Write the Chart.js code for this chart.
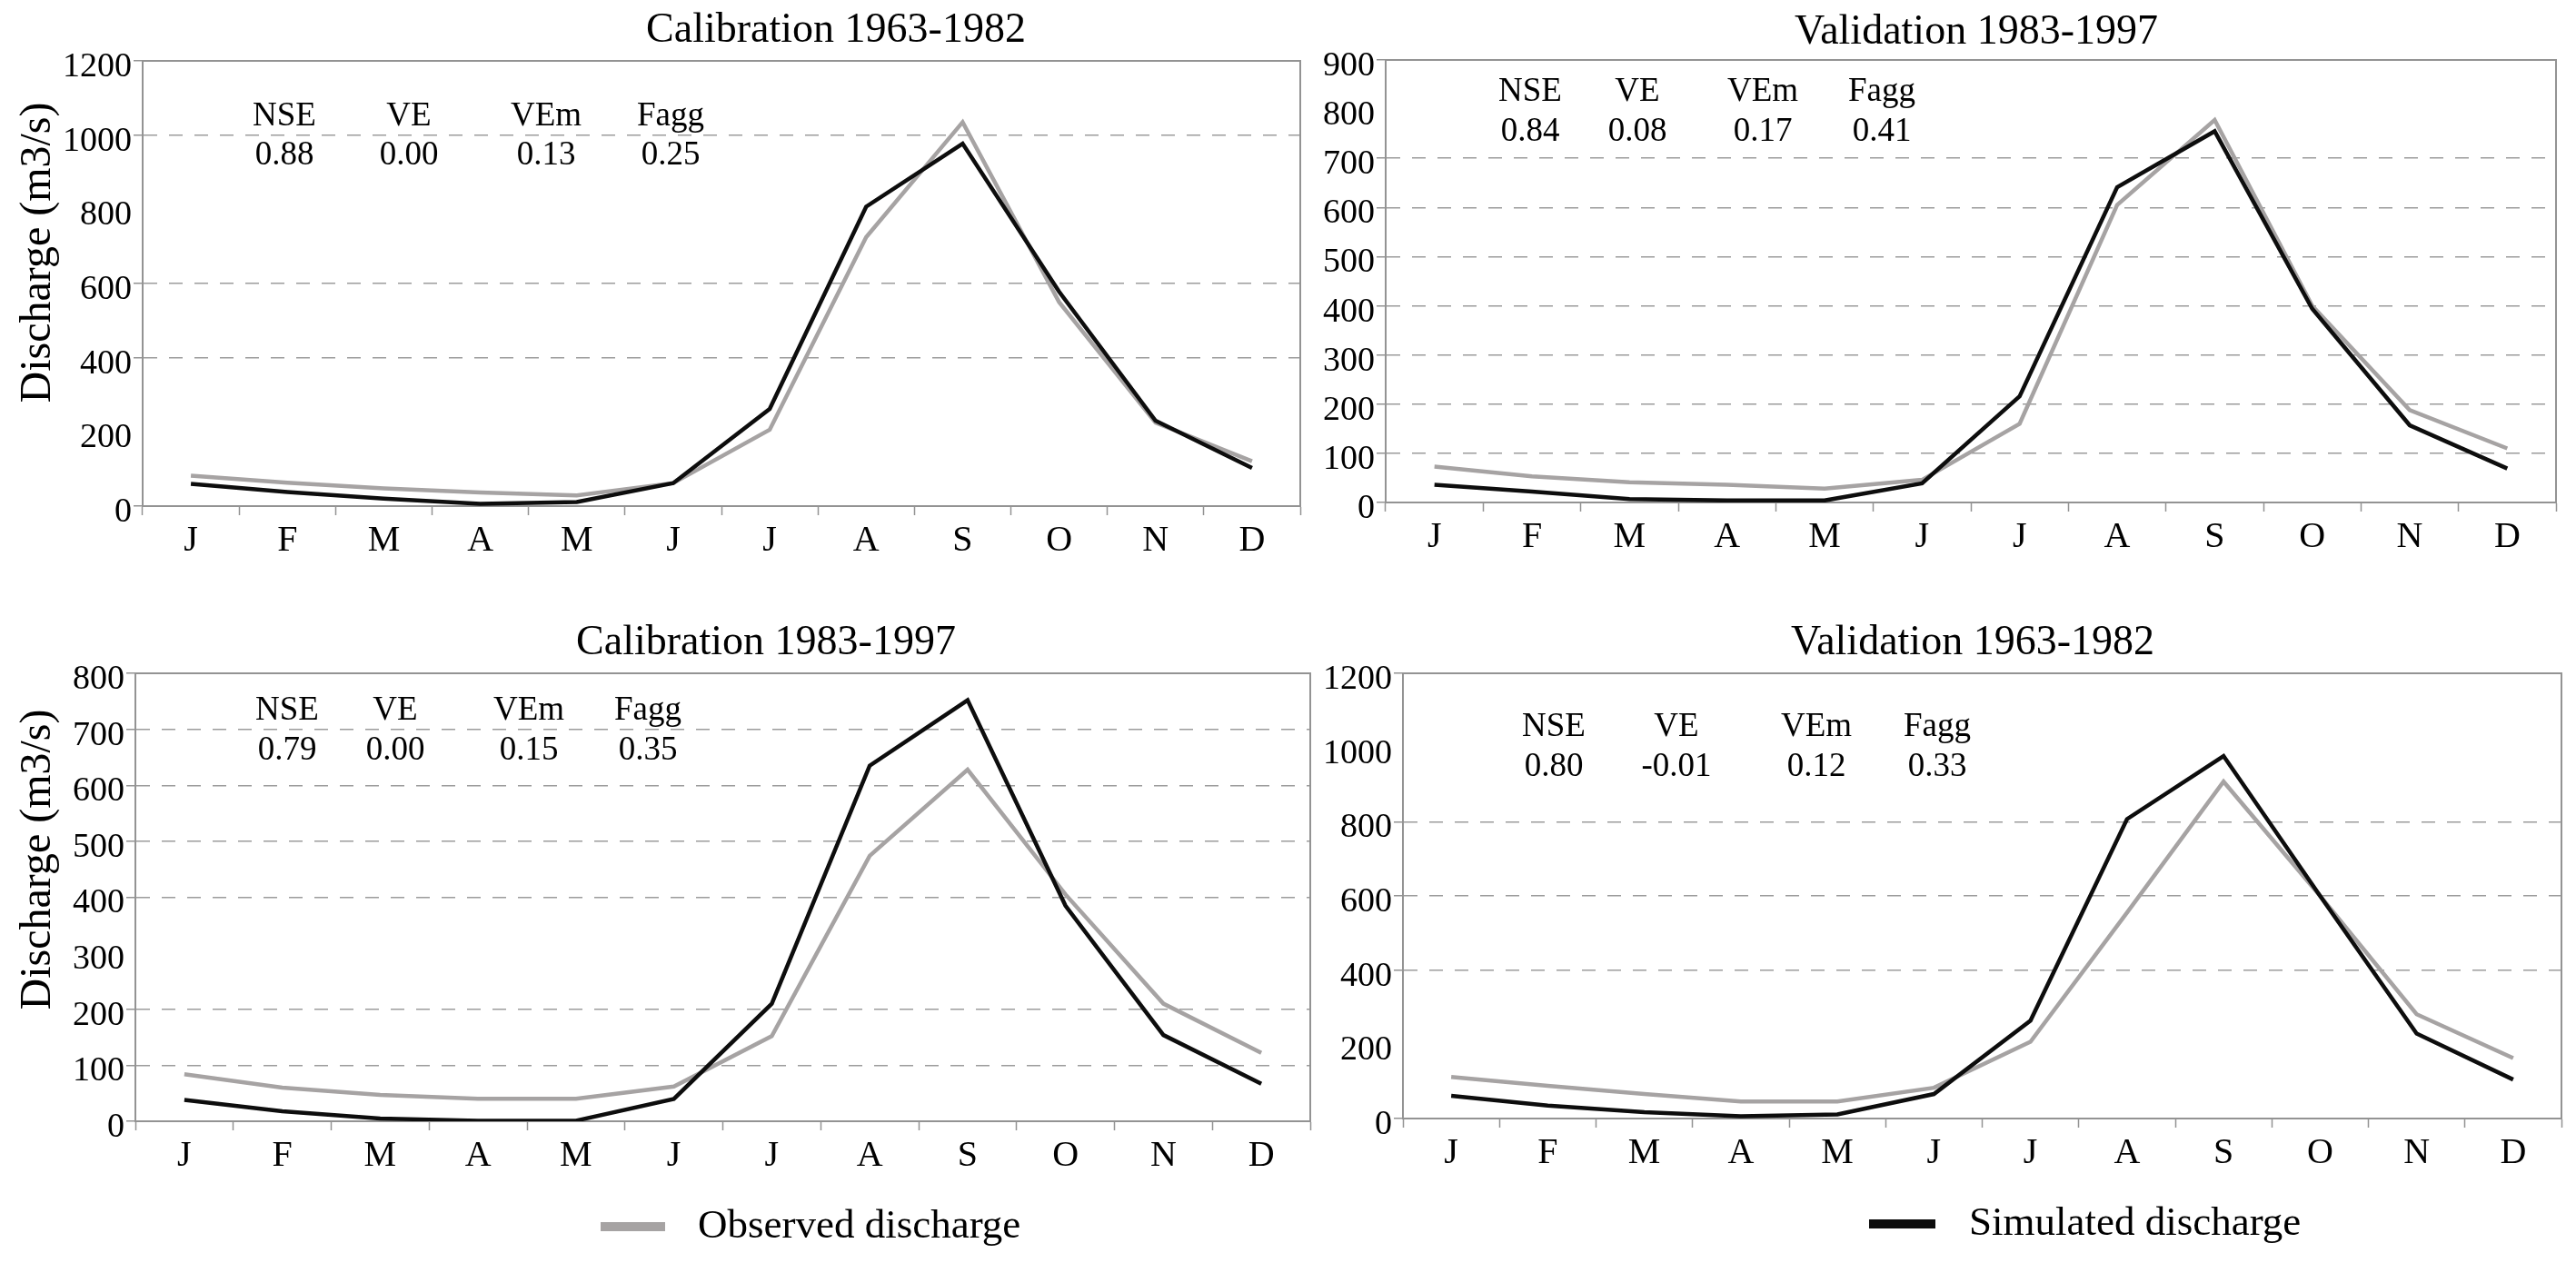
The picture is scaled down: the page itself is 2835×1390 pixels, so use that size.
<!DOCTYPE html>
<html>
<head>
<meta charset="utf-8">
<title>Discharge</title>
<script src="https://cdn.jsdelivr.net/npm/chart.js@4.4.1/dist/chart.umd.min.js"></script>
<style>
  body { margin: 0; background: #fff; }
  #wrap { position: relative; width: 2835px; height: 1390px; background: #fff; }
  #wrap canvas { position: absolute; }
</style>
</head>
<body>
<div id="wrap">
  <canvas id="c1" width="1440" height="640" style="left:0;top:0"></canvas>
  <canvas id="c2" width="1395" height="640" style="left:1440px;top:0"></canvas>
  <canvas id="c3" width="1450" height="750" style="left:0;top:640px"></canvas>
  <canvas id="c4" width="1385" height="750" style="left:1450px;top:640px"></canvas>
</div>
<script>
// Dados
const months = ['J', 'F', 'M', 'A', 'M', 'J', 'J', 'A', 'S', 'O', 'N', 'D'];
const statNames = ['NSE', 'VE', 'VEm', 'Fagg'];
const seriesLabels = ['Observed discharge', 'Simulated discharge'];
const yLabel = 'Discharge (m3/s)';

// Calibration 1963-1982
const cal6382Obs = [82, 63, 48, 37, 29, 62, 206, 725, 1035, 550, 225, 121];
const cal6382Sim = [60, 38, 20, 6, 11, 62, 262, 807, 977, 578, 230, 103];
const cal6382Stats = ['0.88', '0.00', '0.13', '0.25'];

// Validation 1983-1997
const val8397Obs = [73, 53, 41, 36, 28, 46, 160, 605, 778, 400, 188, 110];
const val8397Sim = [36, 22, 7, 4, 4, 39, 216, 641, 755, 394, 157, 69];
const val8397Stats = ['0.84', '0.08', '0.17', '0.41'];

// Calibration 1983-1997
const cal8397Obs = [84, 60, 47, 40, 40, 62, 152, 474, 628, 405, 210, 122];
const cal8397Sim = [38, 18, 5, 1, 1, 40, 210, 635, 752, 385, 154, 67];
const cal8397Stats = ['0.79', '0.00', '0.15', '0.35'];

// Validation 1963-1982
const val6382Obs = [112, 88, 66, 46, 46, 83, 207, 555, 908, 600, 281, 163];
const val6382Sim = [61, 35, 17, 6, 11, 66, 264, 807, 977, 600, 229, 105];
const val6382Stats = ['0.80', '-0.01', '0.12', '0.33'];

const titles = ['Calibration 1963-1982', 'Validation 1983-1997', 'Calibration 1983-1997', 'Validation 1963-1982'];
const yMax = [1200, 900, 800, 1200];
const yStep = [200, 100, 100, 200];

// Cores e fontes
const FONT = '"Liberation Serif", "Times New Roman", serif';
const OBS_COLOR = '#a6a3a3';
const SIM_COLOR = '#0d0d0d';
const FRAME = '#939393';
const GRID = '#9c9c9c';

Chart.defaults.font.family = FONT;
Chart.defaults.color = '#000';

// Layout de cada painel (pixels dentro de cada canvas)
const panels = [
  {
    id: 'c1', obs: cal6382Obs, sim: cal6382Sim, stats: cal6382Stats,
    area: { l: 157, t: 67, r: 1431, b: 557 },
    titleXY: [920, 34], statX: [313, 450, 601, 738], statY: [128, 171],
    yTitleXY: [42, 278], hideGrid: [800, 200]
  },
  {
    id: 'c2', obs: val8397Obs, sim: val8397Sim, stats: val8397Stats,
    area: { l: 85, t: 66, r: 1373, b: 553 },
    titleXY: [735, 36], statX: [244, 362, 500, 631], statY: [101, 145],
    hideGrid: [800]
  },
  {
    id: 'c3', obs: cal8397Obs, sim: cal8397Sim, stats: cal8397Stats,
    area: { l: 149, t: 101, r: 1442, b: 594 },
    titleXY: [843, 68], statX: [316, 435, 582, 713], statY: [142, 186],
    yTitleXY: [42, 306], hideGrid: [300],
    legend: { ds: 0, x1: 661, x2: 732, y: 710, textX: 768 }
  },
  {
    id: 'c4', obs: val6382Obs, sim: val6382Sim, stats: val6382Stats,
    area: { l: 94, t: 101, r: 1369, b: 591 },
    titleXY: [721, 68], statX: [260, 395, 549, 682], statY: [160, 204],
    hideGrid: [1000, 200],
    legend: { ds: 1, x1: 607, x2: 680, y: 707, textX: 717 }
  }
];

// Plugin para moldura, títulos, estatísticas e legenda
function makeDecor(p, title) {
  return {
    id: 'decor',
    beforeDatasetsDraw(chart) {
      const { ctx, chartArea: a } = chart;
      ctx.save();
      ctx.strokeStyle = FRAME;
      ctx.lineWidth = 2;
      ctx.strokeRect(a.left, a.top, a.right - a.left, a.bottom - a.top);
      ctx.restore();
    },
    afterDraw(chart) {
      const ctx = chart.ctx;
      ctx.save();
      ctx.fillStyle = '#000';
      ctx.textAlign = 'center';
      ctx.textBaseline = 'middle';

      ctx.font = '46px ' + FONT;
      ctx.fillText(title, p.titleXY[0], p.titleXY[1]);

      ctx.font = '37px ' + FONT;
      statNames.forEach((name, i) => {
        ctx.fillText(name, p.statX[i], p.statY[0]);
        ctx.fillText(p.stats[i], p.statX[i], p.statY[1]);
      });

      if (p.yTitleXY) {
        ctx.save();
        ctx.translate(p.yTitleXY[0], p.yTitleXY[1]);
        ctx.rotate(-Math.PI / 2);
        ctx.font = '48px ' + FONT;
        ctx.fillText(yLabel, 0, 0);
        ctx.restore();
      }

      if (p.legend) {
        const ds = chart.data.datasets[p.legend.ds];
        ctx.strokeStyle = ds.borderColor;
        ctx.lineWidth = 10;
        ctx.beginPath();
        ctx.moveTo(p.legend.x1, p.legend.y);
        ctx.lineTo(p.legend.x2, p.legend.y);
        ctx.stroke();
        ctx.textAlign = 'left';
        ctx.font = '45px ' + FONT;
        ctx.fillText(ds.label, p.legend.textX, p.legend.y);
      }
      ctx.restore();
    }
  };
}

const charts = {};

panels.forEach((p, idx) => {
  const canvas = document.getElementById(p.id);
  const W = canvas.width;
  const H = canvas.height;
  const max = yMax[idx];

  const gridVisible = v => v !== 0 && v !== max && !p.hideGrid.includes(v);
  const tickVisible = v => v === 0 || v === max || !p.hideGrid.includes(v);

  charts[p.id] = new Chart(canvas, {
    type: 'line',
    data: {
      labels: months,
      datasets: [{
        label: seriesLabels[0],
        data: p.obs,
        borderColor: OBS_COLOR,
        backgroundColor: OBS_COLOR,
        borderWidth: 4.5,
        pointRadius: 0,
        tension: 0,
        order: 1
      }, {
        label: seriesLabels[1],
        data: p.sim,
        borderColor: SIM_COLOR,
        backgroundColor: SIM_COLOR,
        borderWidth: 4.5,
        pointRadius: 0,
        tension: 0,
        order: 0
      }]
    },
    options: {
      responsive: false,
      animation: false,
      devicePixelRatio: 1,
      layout: {
        padding: { left: 0, top: p.area.t, right: W - p.area.r, bottom: 0 }
      },
      plugins: {
        legend: { display: false },
        title: { display: false },
        tooltip: { enabled: false }
      },
      scales: {
        x: {
          type: 'category',
          offset: true,
          afterFit: s => { s.height = H - p.area.b; },
          grid: {
            offset: true,
            drawOnChartArea: false,
            drawTicks: true,
            tickLength: 10,
            tickColor: FRAME,
            tickWidth: 1.5
          },
          border: { display: true, color: FRAME, width: 2 },
          ticks: {
            font: { size: 40, family: 'Liberation Serif' },
            color: '#000',
            padding: 4,
            maxRotation: 0,
            autoSkip: false
          }
        },
        y: {
          min: 0,
          max: max,
          afterFit: s => { s.width = p.area.l; },
          grid: {
            color: c => gridVisible(c.tick.value) ? GRID : 'rgba(0,0,0,0)',
            tickColor: c => tickVisible(c.tick.value) ? FRAME : 'rgba(0,0,0,0)',
            lineWidth: 1.5,
            tickWidth: 1.5,
            drawTicks: true,
            tickLength: 10
          },
          border: { display: true, color: FRAME, width: 2, dash: [15, 13] },
          ticks: {
            stepSize: yStep[idx],
            font: { size: 38, family: 'Liberation Serif' },
            color: '#000',
            padding: 2,
            labelOffset: 7,
            callback: v => String(v)
          }
        }
      }
    },
    plugins: [makeDecor(p, titles[idx])]
  });
});
</script>
</body>
</html>
